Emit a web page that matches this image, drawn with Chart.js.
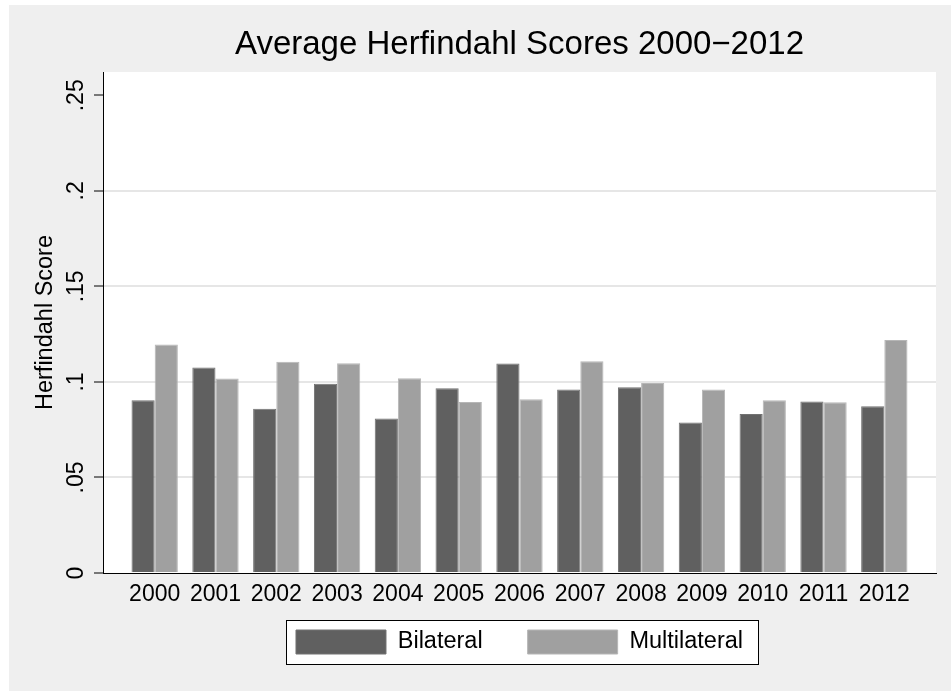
<!DOCTYPE html>
<html><head><meta charset="utf-8">
<script src="https://cdn.jsdelivr.net/npm/chart.js@4/dist/chart.umd.min.js"></script>
<style>
html,body{margin:0;padding:0;background:#fff;}
#wrap{position:absolute;left:9px;top:5px;width:942px;height:686px;background:#efefef;}
</style></head><body>
<div id="wrap"><canvas id="c"></canvas></div>
<script>
const categories = ['2000','2001','2002','2003','2004','2005','2006','2007','2008','2009','2010','2011','2012'];
const bilateral = [0.0904,0.1075,0.0859,0.0990,0.0808,0.0967,0.1096,0.0960,0.0972,0.0787,0.0832,0.0897,0.0873];
const multilateral = [0.1196,0.1018,0.1105,0.1098,0.1019,0.0895,0.0909,0.1108,0.0995,0.0960,0.0904,0.0894,0.1220];
const yTickValues = [0,0.05,0.1,0.15,0.2,0.25];
const yTickLabels = ['0','.05','.1','.15','.2','.25'];
const seriesNames = ['Bilateral','Multilateral'];
const titleText = 'Average Herfindahl Scores 2000\u22122012';
const yAxisTitle = 'Herfindahl Score';

const FONT = "'Liberation Sans', Arial, Helvetica, sans-serif";
Chart.defaults.font.family = FONT;
Chart.defaults.color = '#000';

const LEGEND_PAD = 45;

const bgPlugin = {
  id: 'bg',
  afterLayout(chart) {
    const lg = chart.legend;
    if (lg) {
      const target = chart.chartArea.bottom + 57 - LEGEND_PAD;
      const dy = lg.top - target;
      lg.top -= dy;
      lg.bottom -= dy;
    }
  },
  beforeDraw(chart) {
    const {ctx, chartArea: a} = chart;
    ctx.save();
    ctx.fillStyle = '#ffffff';
    ctx.fillRect(a.left, a.top, a.right - a.left, a.bottom - a.top);
    const lg = chart.legend;
    if (lg && lg.legendHitBoxes && lg.legendHitBoxes.length) {
      const hb = lg.legendHitBoxes;
      const first = hb[0], last = hb[hb.length - 1];
      const l = first.left - 10, t = first.top - 10;
      const r = last.left + last.width + 15, b = first.top + first.height + 10;
      ctx.fillStyle = '#ffffff';
      ctx.fillRect(l, t, r - l, b - t);
      ctx.strokeStyle = '#000';
      ctx.lineWidth = 1;
      ctx.strokeRect(Math.round(l) + 0.5, Math.round(t) + 0.5, Math.round(r - l), Math.round(b - t));
    }
    ctx.restore();
  },
  afterDraw(chart) {
    const ys = chart.scales.y;
    const ctx = chart.ctx;
    ctx.save();
    ctx.font = '23px ' + FONT;
    ctx.fillStyle = '#000';
    ctx.textAlign = 'center';
    ctx.textBaseline = 'alphabetic';
    yTickValues.forEach((v, i) => {
      const py = ys.getPixelForValue(v);
      ctx.save();
      ctx.translate(73.5, py);
      ctx.rotate(-Math.PI / 2);
      ctx.fillText(yTickLabels[i], 0, 0);
      ctx.restore();
    });
    ctx.restore();
  }
};

new Chart(document.getElementById('c'), {
  type: 'bar',
  data: {
    datasets: [
      {
        label: seriesNames[0],
        data: categories.map((c, i) => ({x: i, y: bilateral[i]})),
        backgroundColor: '#606060',
        borderColor: '#727272',
        borderWidth: 1,
        categoryPercentage: 0.762,
        barPercentage: 1.0
      },
      {
        label: seriesNames[1],
        data: categories.map((c, i) => ({x: i, y: multilateral[i]})),
        backgroundColor: '#a0a0a0',
        borderColor: '#b6b6b6',
        borderWidth: 1,
        categoryPercentage: 0.762,
        barPercentage: 1.0
      }
    ]
  },
  options: {
    responsive: true,
    maintainAspectRatio: false,
    devicePixelRatio: 1,
    animation: false,
    layout: {padding: {left: 0, right: 15, top: 0, bottom: 5}},
    scales: {
      x: {
        type: 'linear',
        offset: false,
        min: -0.85,
        max: 12.85,
        afterBuildTicks(scale) { scale.ticks = categories.map((c, i) => ({value: i})); },
        afterFit(scale) { scale.height = 34; },
        grid: {display: false},
        border: {display: true, color: '#000', width: 1},
        ticks: {
          autoSkip: false,
          maxRotation: 0,
          minRotation: 0,
          padding: 0,
          font: {size: 23},
          color: '#000',
          callback: (v) => categories[v] !== undefined ? categories[v] : ''
        }
      },
      y: {
        min: 0,
        max: 0.2622,
        afterBuildTicks(scale) { scale.ticks = yTickValues.map(v => ({value: v})); },
        afterFit(scale) { scale.width = 94; },
        grid: {
          color: (ctx) => (ctx.tick && (ctx.tick.value === 0 || ctx.tick.value === 0.25)) ? 'rgba(0,0,0,0)' : '#e6e6e6',
          lineWidth: 2,
          tickColor: '#000',
          tickWidth: 1,
          tickLength: 9,
          drawTicks: true
        },
        border: {display: true, color: '#000', width: 1},
        ticks: {display: false},
        title: {
          display: true,
          text: yAxisTitle,
          font: {size: 23.5},
          color: '#000',
          padding: {top: 22, bottom: 0}
        }
      }
    },
    plugins: {
      title: {
        display: true,
        text: titleText,
        fullSize: false,
        color: '#000',
        font: {size: 33, weight: 'normal'},
        padding: {top: 20.5, bottom: 6.9}
      },
      legend: {
        display: true,
        position: 'bottom',
        fullSize: false,
        labels: {
          boxWidth: 90,
          boxHeight: 24,
          padding: LEGEND_PAD,
          color: '#000',
          font: {size: 23.5}
        }
      },
      tooltip: {enabled: false}
    }
  },
  plugins: [bgPlugin]
});
</script>
</body></html>
